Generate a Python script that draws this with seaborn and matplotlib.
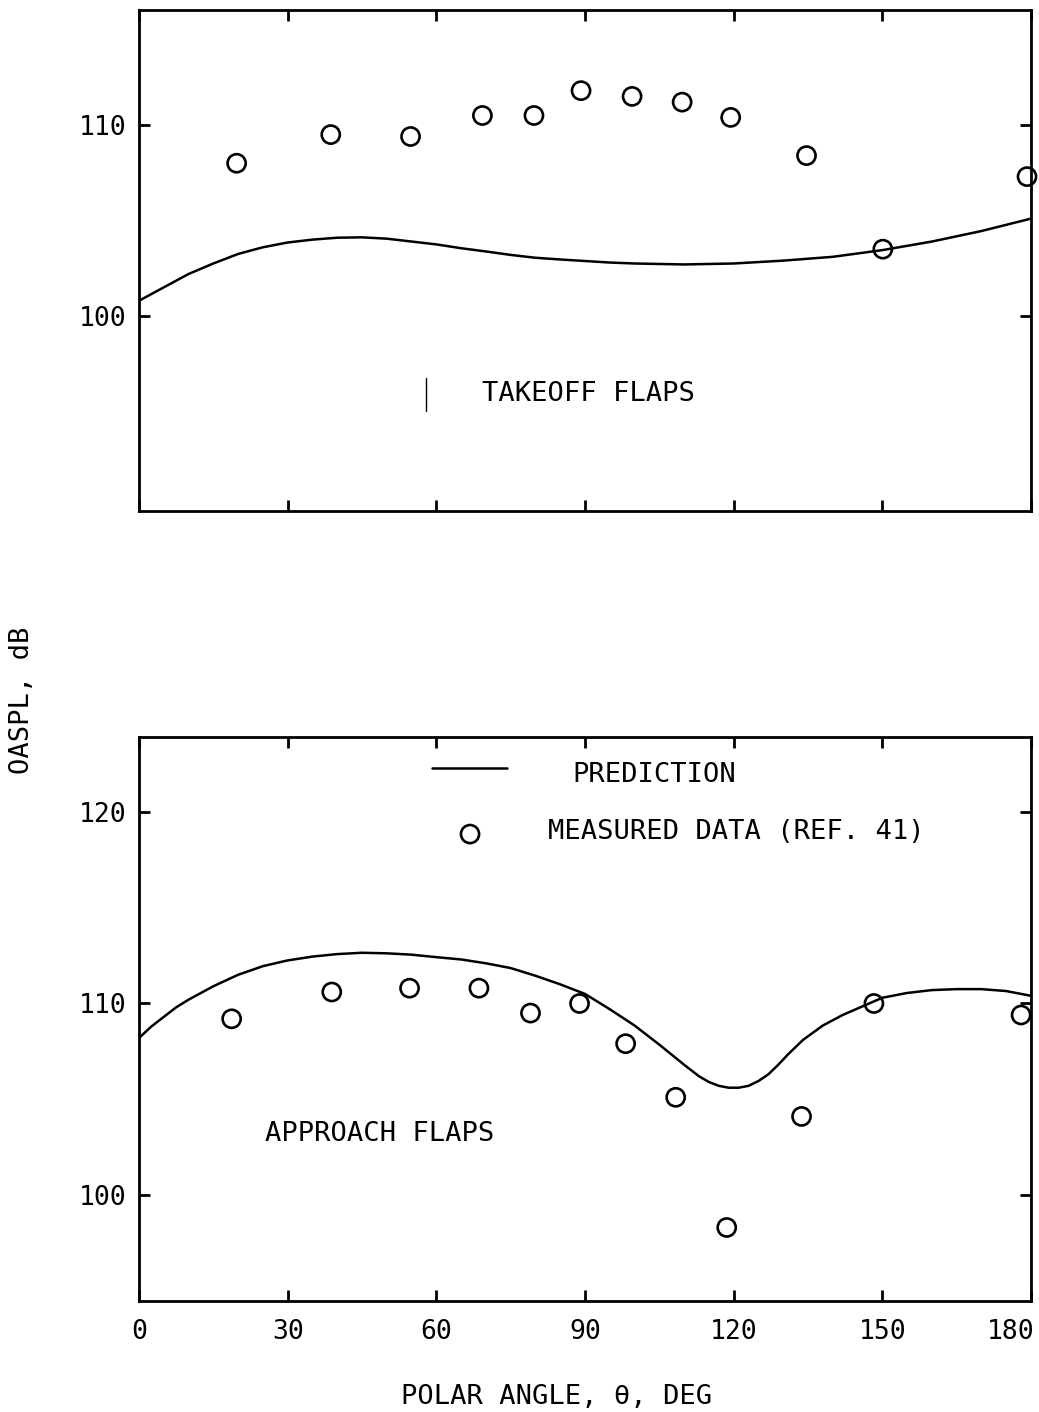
import numpy as np
import pandas as pd
import matplotlib
matplotlib.use("Agg")
import matplotlib.pyplot as plt
import matplotlib.transforms as mtransforms
import seaborn as sns

# ---- data -------------------------------------------------------------
# Takeoff flaps: measured OASPL (dB) at polar angle (deg)
takeoff_meas_angle = [19.7, 38.7, 54.8, 69.3, 79.7, 89.2, 99.5, 109.6, 119.4, 134.7, 150.1, 179.2]
takeoff_meas_oaspl = [108.0, 109.5, 109.4, 110.5, 110.5, 111.8, 111.5, 111.2, 110.4, 108.4, 103.5, 107.3]

# Takeoff flaps: prediction curve
takeoff_pred_angle = [0, 5, 10, 15, 20, 25, 30, 35, 40, 45, 50, 55, 60, 65, 70, 75, 80,
                      85, 90, 95, 100, 110, 120, 130, 140, 150, 160, 170, 180]
takeoff_pred_oaspl = [100.8, 101.5, 102.2, 102.75, 103.25, 103.6, 103.85, 104.0, 104.1, 104.12,
                      104.05, 103.9, 103.75, 103.55, 103.38, 103.2, 103.05, 102.96, 102.88,
                      102.8, 102.75, 102.7, 102.75, 102.9, 103.1, 103.45, 103.9, 104.45, 105.1]

# Approach flaps: measured OASPL (dB)
approach_meas_angle = [18.7, 38.9, 54.6, 68.6, 79.0, 88.9, 98.2, 108.3, 118.6, 133.7, 148.3, 178.0]
approach_meas_oaspl = [109.2, 110.6, 110.8, 110.8, 109.5, 110.0, 107.9, 105.1, 98.3, 104.1, 110.0, 109.4]

# Approach flaps: prediction curve
approach_pred_angle = [0, 2.5, 5, 7.5, 10, 12.5, 15, 20, 25, 30, 35, 40, 45, 50, 55, 60, 65, 70,
                       75, 80, 85, 90, 95, 100, 105, 110, 113, 115, 117, 119, 121, 123, 125,
                       127, 129, 131, 134, 138, 142, 146, 150, 155, 160, 165, 170, 175, 180]
approach_pred_oaspl = [108.2, 108.8, 109.3, 109.8, 110.2, 110.55, 110.9, 111.5, 111.95, 112.25,
                       112.45, 112.58, 112.65, 112.62, 112.55, 112.42, 112.3, 112.1, 111.85,
                       111.45, 111.0, 110.5, 109.7, 108.85, 107.85, 106.8, 106.2, 105.9, 105.7,
                       105.6, 105.6, 105.7, 105.95, 106.3, 106.8, 107.35, 108.1, 108.85, 109.4,
                       109.85, 110.3, 110.55, 110.7, 110.75, 110.75, 110.65, 110.4]

x_ticks = [0, 30, 60, 90, 120, 150, 180]
top_y_ticks = [100, 110]
bottom_y_ticks = [100, 110, 120]

# ---- style ------------------------------------------------------------
sns.set_theme(style="ticks")
plt.rcParams["font.family"] = ["DejaVu Sans Mono", "DejaVu Sans"]
plt.rcParams["axes.linewidth"] = 2.0
plt.rcParams["text.color"] = "black"

FS = 19.5
TICK_FS = 19

fig = plt.figure(figsize=(10.39, 14.12), dpi=100)
fig.patch.set_facecolor("white")

W = 1039.0
H = 1412.0
left = 139 / W
width = 892 / W
ax_top = fig.add_axes([left, 1 - 511 / H, width, 501.5 / H])
ax_bot = fig.add_axes([left, 1 - 1301 / H, width, 564 / H])


def style_axes(ax, yticks, ylim, show_xlabels):
    ax.set_facecolor("white")
    ax.set_xlim(0, 180)
    ax.set_ylim(*ylim)
    ax.set_xticks(x_ticks)
    ax.set_yticks(yticks)
    ax.set_xlabel("")
    ax.set_ylabel("")
    for s in ax.spines.values():
        s.set_visible(True)
        s.set_color("black")
        s.set_linewidth(2.0)
    ax.tick_params(axis="both", which="major", direction="in", length=8, width=2,
                   color="black", top=True, right=True, labelsize=TICK_FS,
                   labelcolor="black")
    ax.tick_params(axis="y", pad=9)
    ax.tick_params(axis="x", pad=13, labelbottom=show_xlabels)
    ax.grid(False)


def draw_panel(ax, pa, pv, ma, mv):
    pred = pd.DataFrame({"angle": pa, "oaspl": pv})
    meas = pd.DataFrame({"angle": ma, "oaspl": mv})
    sns.lineplot(data=pred, x="angle", y="oaspl", ax=ax, color="black",
                 linewidth=1.8, sort=False, legend=False, zorder=2)
    sns.scatterplot(data=meas, x="angle", y="oaspl", ax=ax, s=170,
                    facecolors="none", edgecolor="black", linewidth=1.9,
                    legend=False, zorder=3, clip_on=False)


draw_panel(ax_top, takeoff_pred_angle, takeoff_pred_oaspl,
           takeoff_meas_angle, takeoff_meas_oaspl)
draw_panel(ax_bot, approach_pred_angle, approach_pred_oaspl,
           approach_meas_angle, approach_meas_oaspl)

style_axes(ax_top, top_y_ticks, (89.79, 116.05), False)
style_axes(ax_bot, bottom_y_ticks, (94.46, 123.92), True)

# keep the last angle label inside the sheet
fig.canvas.draw()
last = ax_bot.get_xticklabels()[-1]
last.set_transform(last.get_transform() +
                   mtransforms.ScaledTranslation(-15 / 72, 0, fig.dpi_scale_trans))

# panel captions
ax_top.plot([57.9, 57.9], [95.03, 96.75], color="black", linewidth=1.0)
ax_top.text(69.2, 95.92, "TAKEOFF FLAPS", fontsize=FS, ha="left", va="center")
ax_bot.text(25.4, 103.2, "APPROACH FLAPS", fontsize=FS, ha="left", va="center")

# key
ax_bot.plot([59.1, 74.3], [122.3, 122.3], color="black", linewidth=1.8)
ax_bot.scatter([66.8], [118.85], s=170, facecolors="none", edgecolors="black",
               linewidths=1.9, zorder=3)
ax_bot.text(87.4, 121.95, "PREDICTION", fontsize=FS, ha="left", va="center")
ax_bot.text(82.5, 118.96, "MEASURED DATA (REF. 41)", fontsize=FS, ha="left", va="center")

# shared axis titles
fig.text(22 / W, 1 - 700 / H, "OASPL, dB", rotation=90, fontsize=FS,
         ha="center", va="center")
fig.text(557 / W, 1 - 1397 / H, "POLAR ANGLE, \u03b8, DEG", fontsize=FS,
         ha="center", va="center")

fig.savefig("out.png", dpi=100, facecolor="white")
